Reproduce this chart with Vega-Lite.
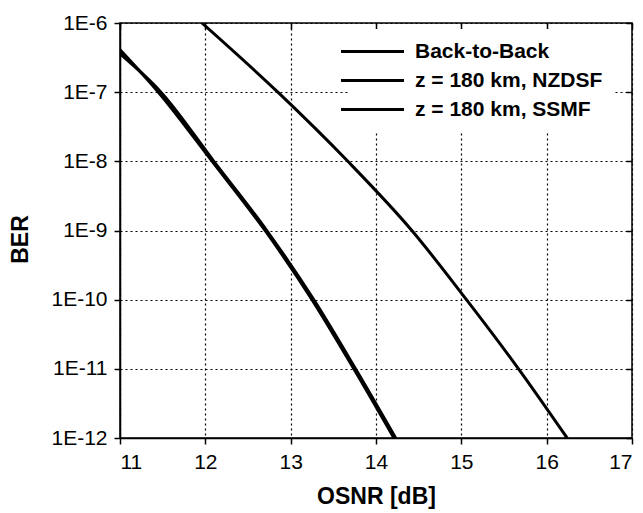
{
  "$schema": "https://vega.github.io/schema/vega-lite/v6.json",
  "width": 512,
  "height": 415,
  "autosize": {"type": "none"},
  "padding": {"left": 120, "top": 23, "right": 11, "bottom": 75},
  "background": "white",
  "config": {
    "font": "Liberation Sans",
    "view": {"stroke": "black", "strokeWidth": 1.5},
    "axis": {
      "domainColor": "black",
      "domainWidth": 1.5,
      "tickColor": "black",
      "tickWidth": 1.5,
      "tickSize": 6,
      "labelColor": "black",
      "labelFont": "Liberation Sans",
      "labelFontSize": 21,
      "labelPadding": 7,
      "titleColor": "black",
      "titleFont": "Liberation Sans",
      "titleFontSize": 23,
      "titleFontWeight": "bold",
      "gridColor": "black",
      "gridDash": [2, 3],
      "gridWidth": 1.2,
      "gridOpacity": 1
    }
  },
  "data": {
    "values": [
      {"series": "Back-to-Back", "osnr": 11.0, "ber": 4.1e-7},
      {"series": "Back-to-Back", "osnr": 11.45, "ber": 1e-7},
      {"series": "Back-to-Back", "osnr": 12.08, "ber": 1e-8},
      {"series": "Back-to-Back", "osnr": 12.7, "ber": 1e-9},
      {"series": "Back-to-Back", "osnr": 13.25, "ber": 1e-10},
      {"series": "Back-to-Back", "osnr": 13.74, "ber": 1e-11},
      {"series": "Back-to-Back", "osnr": 14.21, "ber": 1e-12},
      {"series": "z = 180 km, NZDSF", "osnr": 11.0, "ber": 3.6e-7},
      {"series": "z = 180 km, NZDSF", "osnr": 11.48, "ber": 1e-7},
      {"series": "z = 180 km, NZDSF", "osnr": 12.1, "ber": 1e-8},
      {"series": "z = 180 km, NZDSF", "osnr": 12.72, "ber": 1e-9},
      {"series": "z = 180 km, NZDSF", "osnr": 13.27, "ber": 1e-10},
      {"series": "z = 180 km, NZDSF", "osnr": 13.76, "ber": 1e-11},
      {"series": "z = 180 km, NZDSF", "osnr": 14.23, "ber": 1e-12},
      {"series": "z = 180 km, SSMF", "osnr": 11.96, "ber": 1e-6},
      {"series": "z = 180 km, SSMF", "osnr": 12.85, "ber": 1e-7},
      {"series": "z = 180 km, SSMF", "osnr": 13.67, "ber": 1e-8},
      {"series": "z = 180 km, SSMF", "osnr": 14.42, "ber": 1e-9},
      {"series": "z = 180 km, SSMF", "osnr": 15.06, "ber": 1e-10},
      {"series": "z = 180 km, SSMF", "osnr": 15.67, "ber": 1e-11},
      {"series": "z = 180 km, SSMF", "osnr": 16.24, "ber": 1e-12}
    ]
  },
  "layer": [
    {
      "mark": {"type": "line", "strokeWidth": 3, "clip": true, "interpolate": "monotone"},
      "encoding": {
        "x": {
          "field": "osnr", "type": "quantitative",
          "scale": {"domain": [11, 17], "nice": false, "zero": false},
          "axis": {"values": [11, 12, 13, 14, 15, 16, 17], "title": "OSNR [dB]", "titlePadding": 13, "grid": true}
        },
        "y": {
          "field": "ber", "type": "quantitative",
          "scale": {"type": "log", "domain": [1e-12, 1e-6], "nice": false},
          "axis": {
            "values": [1e-12, 1e-11, 1e-10, 1e-9, 1e-8, 1e-7, 1e-6],
            "labelExpr": "'1E' + round(log(datum.value)/LN10)",
            "title": "BER", "titlePadding": 18, "titleY": 216, "grid": true
          }
        },
        "color": {
          "field": "series", "type": "nominal",
          "scale": {"domain": ["Back-to-Back", "z = 180 km, NZDSF", "z = 180 km, SSMF"], "range": ["black", "black", "black"]},
          "legend": {
            "title": null,
            "orient": "none",
            "legendX": 230,
            "legendY": 6,
            "symbolType": "M-6.3,0H6.3",
            "symbolSize": 100,
            "symbolStrokeWidth": 3,
            "symbolStrokeColor": "black",
            "symbolFillColor": "transparent",
            "labelFont": "Liberation Sans",
            "labelFontSize": 21,
            "labelFontWeight": "bold",
            "labelColor": "black",
            "labelOffset": 32,
            "labelLimit": 400,
            "fillColor": "white",
            "padding": 12,
            "rowPadding": 7
          }
        }
      }
    },
    {
      "mark": {"type": "line", "strokeOpacity": 0, "clip": true},
      "encoding": {
        "x": {
          "field": "osnr", "type": "quantitative",
          "axis": {"orient": "top", "values": [11, 12, 13, 14, 15, 16, 17], "labels": false, "title": null, "tickSize": -6, "domain": false, "grid": false}
        },
        "y": {
          "field": "ber", "type": "quantitative",
          "axis": {"orient": "right", "values": [1e-12, 1e-11, 1e-10, 1e-9, 1e-8, 1e-7, 1e-6], "labels": false, "title": null, "tickSize": -6, "domain": false, "grid": false}
        },
        "detail": {"field": "series"}
      }
    }
  ],
  "resolve": {"axis": {"x": "independent", "y": "independent"}}
}
